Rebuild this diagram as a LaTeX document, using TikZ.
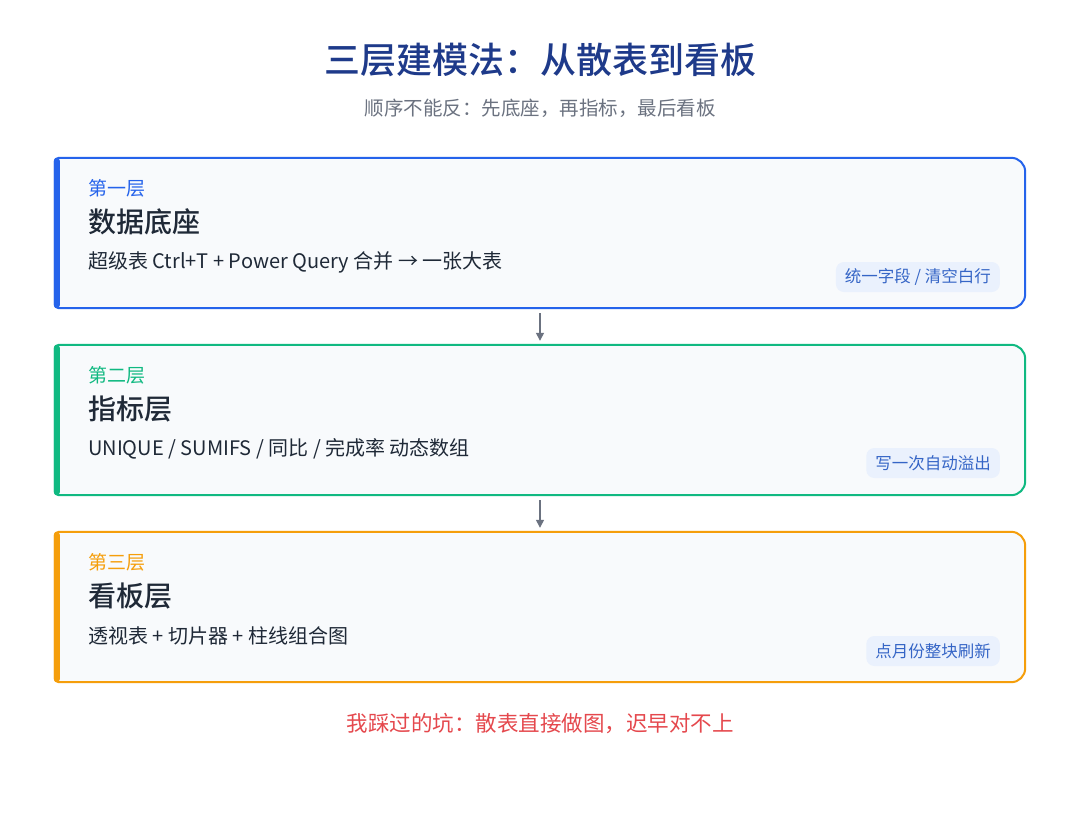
\documentclass[tikz,border=0pt]{standalone}
\usepackage{fontspec}
\setmainfont{Noto Sans CJK SC}
\newfontfamily\midfont{Noto Sans CJK SC Medium}
\usetikzlibrary{arrows.meta}
\definecolor{headnavy}{HTML}{1E3A8A}
\definecolor{subgray}{HTML}{6B7280}
\definecolor{ink}{HTML}{1F2937}
\definecolor{panel}{HTML}{F8FAFC}
\definecolor{tierblue}{HTML}{2563EB}
\definecolor{tiergreen}{HTML}{10B981}
\definecolor{tierorange}{HTML}{F59E0B}
\definecolor{badgebg}{HTML}{EAF1FD}
\definecolor{badgetext}{HTML}{3565C6}
\definecolor{warnred}{HTML}{E5484D}

\begin{document}
\begin{tikzpicture}[x=1pt,y=-1pt,
	layer/.style={minimum width=970pt,minimum height=150pt,inner sep=0pt},
	tier/.style={anchor=west,inner sep=0pt,font=\fontsize{19}{22}\selectfont},
	heading/.style={anchor=west,inner sep=0pt,text=ink,font=\fontsize{28}{32}\selectfont\midfont},
	detail/.style={anchor=west,inner sep=0pt,text=ink,font=\fontsize{20}{24}\selectfont},
	badge/.style={anchor=east,fill=badgebg,text=badgetext,rounded corners=8pt,inner xsep=9pt,inner ysep=0pt,minimum height=30pt,font=\fontsize{16.5}{20}\selectfont},
	flow/.style={draw=subgray,line width=1.4pt,-{Triangle[length=8pt,width=8pt]},shorten <=5pt,shorten >=4pt}]
	\path[use as bounding box,fill=white] (0,0) rectangle (1080,815);

	\node[font=\fontsize{36}{42}\selectfont\midfont,text=headnavy] (headline) at (540,60) {三层建模法：从散表到看板};
	\node[font=\fontsize{19.5}{23}\selectfont,text=subgray] (subline) at (540,108) {顺序不能反：先底座，再指标，最后看板};

	\node[layer] (base) at (540,233) {};
	\draw[tierblue,line width=2pt,fill=panel] (base.west) [rounded corners=4pt] -- (base.north west) -- ([xshift=20pt]base.north west) [rounded corners=14pt] -- (base.north east) -- (base.south east) -- ([xshift=20pt]base.south west) [rounded corners=4pt] -- (base.south west) -- cycle;
	\fill[tierblue,rounded corners=3pt] ([xshift=-1pt]base.north west) rectangle ([xshift=5pt]base.south west);
	\node[tier,text=tierblue] (baseTier) at (88,188) {第一层};
	\node[heading] (baseName) at (88,222) {数据底座};
	\node[detail] (baseText) at (88,262) {超级表 Ctrl+T + Power Query 合并 → 一张大表};
	\node[badge] (baseTag) at (1000,277) {统一字段 / 清空白行};

	\node[layer] (metric) at (540,420) {};
	\draw[tiergreen,line width=2pt,fill=panel] (metric.west) [rounded corners=4pt] -- (metric.north west) -- ([xshift=20pt]metric.north west) [rounded corners=14pt] -- (metric.north east) -- (metric.south east) -- ([xshift=20pt]metric.south west) [rounded corners=4pt] -- (metric.south west) -- cycle;
	\fill[tiergreen,rounded corners=3pt] ([xshift=-1pt]metric.north west) rectangle ([xshift=5pt]metric.south west);
	\node[tier,text=tiergreen] (metricTier) at (88,375) {第二层};
	\node[heading] (metricName) at (88,409) {指标层};
	\node[detail] (metricText) at (88,449) {UNIQUE / SUMIFS / 同比 / 完成率 动态数组};
	\node[badge] (metricTag) at (1000,463) {写一次自动溢出};

	\node[layer] (board) at (540,607) {};
	\draw[tierorange,line width=2pt,fill=panel] (board.west) [rounded corners=4pt] -- (board.north west) -- ([xshift=20pt]board.north west) [rounded corners=14pt] -- (board.north east) -- (board.south east) -- ([xshift=20pt]board.south west) [rounded corners=4pt] -- (board.south west) -- cycle;
	\fill[tierorange,rounded corners=3pt] ([xshift=-1pt]board.north west) rectangle ([xshift=5pt]board.south west);
	\node[tier,text=tierorange] (boardTier) at (88,562) {第三层};
	\node[heading] (boardName) at (88,596) {看板层};
	\node[detail] (boardText) at (88,636) {透视表 + 切片器 + 柱线组合图};
	\node[badge] (boardTag) at (1000,651) {点月份整块刷新};

	\draw[flow] (base) -- (metric);
	\draw[flow] (metric) -- (board);

	\node[font=\fontsize{21.5}{26}\selectfont,text=warnred] (pitfall) at (540,724) {我踩过的坑：散表直接做图，迟早对不上};
\end{tikzpicture}
\end{document}
